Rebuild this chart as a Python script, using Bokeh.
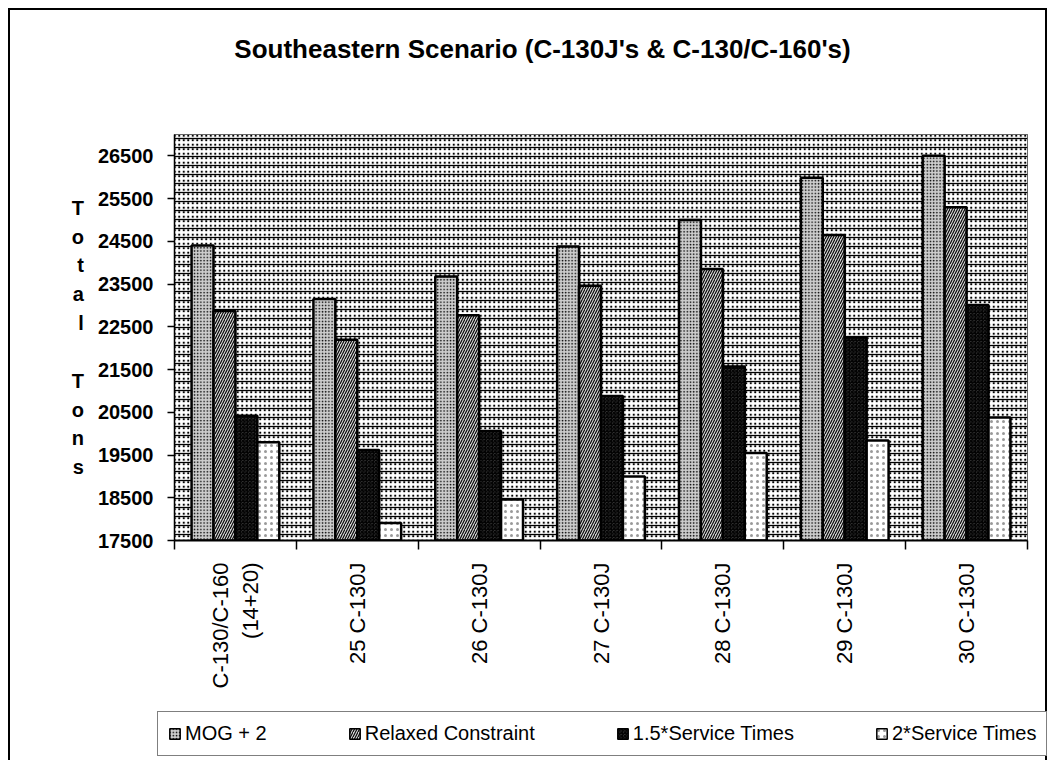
import math
from bokeh.plotting import figure
from bokeh.models import FixedTicker, BoxAnnotation, Range1d, Legend, LegendItem, Label
from bokeh.embed import file_html
from bokeh.resources import INLINE

# ---- data ----
categories = ["C-130/C-160\n(14+20)", "25 C-130J", "26 C-130J", "27 C-130J",
              "28 C-130J", "29 C-130J", "30 C-130J"]
series_names = ["MOG + 2", "Relaxed Constraint", "1.5*Service Times", "2*Service Times"]
mog_plus_2 = [24400, 23150, 23680, 24380, 25000, 25990, 26500]
relaxed_constraint = [22870, 22200, 22770, 23460, 23850, 24650, 25300]
service_times_15 = [20420, 19620, 20060, 20880, 21570, 22250, 23010]
service_times_2 = [19800, 17910, 18460, 19000, 19550, 19840, 20380]
y_ticks = [17500, 18500, 19500, 20500, 21500, 22500, 23500, 24500, 25500, 26500]
y_min, y_max = 17500, 27000
title_text = "Southeastern Scenario (C-130J's & C-130/C-160's)"
y_label = "Total Tons"

series_values = [mog_plus_2, relaxed_constraint, service_times_15, service_times_2]

FONT = "Liberation Sans"
n = len(categories)
W = 1039
TOP_H, MAIN_H, LEG_H = 116, 578, 58

styles = [
    dict(fill_color="#cdcdcd", hatch_pattern="dot", hatch_color="black", hatch_scale=3.2, hatch_weight=1.0),
    dict(fill_color="#d2d2d2", hatch_pattern="right_diagonal_line", hatch_color="black", hatch_scale=5, hatch_weight=1.1),
    dict(fill_color="#505050", hatch_pattern="criss_cross", hatch_color="black", hatch_scale=3.5, hatch_weight=1.1),
    dict(fill_color="white", hatch_pattern="dot", hatch_color="#9a9a9a", hatch_scale=6, hatch_weight=1.2),
]

BORDER = "2px solid black"


def blank_fig(h, css):
    f = figure(width=W, height=h, output_backend="svg", toolbar_location=None,
               x_range=Range1d(0, W), y_range=Range1d(0, h),
               x_axis_location=None, y_axis_location=None, min_border=0, styles=css)
    f.outline_line_color = None
    f.xgrid.grid_line_color = None
    f.ygrid.grid_line_color = None
    f.background_fill_color = "white"
    f.border_fill_color = "white"
    return f


side_css = {"border-left": BORDER, "border-right": BORDER, "margin-left": "8px"}

# ---- title strip ----
top = blank_fig(TOP_H, dict(side_css, **{"border-top": BORDER, "margin-top": "8px"}))
top.add_layout(Label(x=532, y=TOP_H - 38, text=title_text, text_align="center",
                     text_baseline="middle", text_font=FONT, text_font_size="26px",
                     text_font_style="bold", text_color="black"))

# ---- main chart ----
p = figure(width=W, height=MAIN_H, output_backend="svg", toolbar_location=None,
           x_range=Range1d(-0.5, n - 0.5), y_range=Range1d(y_min, y_max),
           min_border_left=164, min_border_right=22, min_border_top=10,
           min_border_bottom=162, styles=dict(side_css))
try:
    p.title = None
except Exception:
    p.title.text = ""

p.background_fill_color = "white"
p.border_fill_color = "white"
p.outline_line_color = "#333333"
p.outline_line_width = 1
p.xgrid.grid_line_color = None
p.ygrid.grid_line_color = None

p.add_layout(BoxAnnotation(level="underlay", fill_color="white", fill_alpha=1,
                           hatch_pattern="dot", hatch_color="black", hatch_scale=4.5,
                           hatch_weight=1.0, line_color=None, editable=False))
p.add_layout(BoxAnnotation(level="underlay", fill_alpha=0,
                           hatch_pattern="horizontal_line", hatch_color="black",
                           hatch_scale=9, hatch_weight=1.3, line_color=None, editable=False))

bar_w = 0.18
offsets = [-0.27, -0.09, 0.09, 0.27]
for vals, off, st in zip(series_values, offsets, styles):
    xs = [i + off for i in range(n)]
    p.vbar(x=xs, top=vals, bottom=y_min, width=bar_w, line_color="black",
           line_width=2.5, **st)

yax = p.yaxis[0]
yax.ticker = FixedTicker(ticks=y_ticks)
yax.major_tick_out = 7
yax.major_tick_in = 0
yax.minor_tick_out = 0
yax.minor_tick_in = 0
yax.axis_line_color = "black"
yax.axis_line_width = 1.5
yax.major_tick_line_width = 1.5
yax.major_label_text_font = FONT
yax.major_label_text_font_size = "20px"
yax.major_label_text_font_style = "bold"
yax.major_label_text_color = "black"
yax.major_label_standoff = 14
yax.axis_label = "\n".join(list(y_label.split(" ")[0]) + [""] + list(y_label.split(" ")[1]))
yax.axis_label_orientation = "horizontal"
yax.axis_label_text_font = FONT
yax.axis_label_text_font_size = "20px"
yax.axis_label_text_font_style = "bold"
yax.axis_label_text_color = "black"
yax.axis_label_text_line_height = 1.31
yax.axis_label_standoff = 11

xax = p.xaxis[0]
xax.ticker = FixedTicker(ticks=list(range(n)), minor_ticks=[i + 0.5 for i in range(-1, n)])
xax.major_label_overrides = {i: c for i, c in enumerate(categories)}
xax.major_tick_out = 0
xax.major_tick_in = 0
xax.minor_tick_out = 9
xax.minor_tick_in = 0
xax.minor_tick_line_width = 1.5
xax.minor_tick_line_color = "black"
xax.axis_line_color = "black"
xax.axis_line_width = 2
xax.major_label_orientation = math.pi / 2
xax.major_label_standoff = 13
xax.major_label_text_font = FONT
xax.major_label_text_font_size = "22px"
xax.major_label_text_color = "black"

# ---- legend strip (hidden proxy renderers carry the bar styles) ----
leg = blank_fig(LEG_H, dict(side_css))
items = []
for name, st in zip(series_names, styles):
    r = leg.vbar(x=[0], top=[1], width=1, line_color="black", line_width=1.5,
                 visible=False, **st)
    items.append(LegendItem(label=name, renderers=[r]))
lg = Legend(items=items, orientation="horizontal", location=(147, 4))
lg.margin = 0
lg.padding = 10
lg.spacing = 81
lg.label_standoff = 4
lg.glyph_width = 13
lg.glyph_height = 13
lg.label_text_font = FONT
lg.label_text_font_size = "20px"
lg.label_text_color = "black"
lg.border_line_color = "black"
lg.border_line_width = 1.5
lg.background_fill_color = "white"
lg.background_fill_alpha = 1
lg.click_policy = "none"
leg.add_layout(lg, "center")

open("out.html", "w").write(file_html([top, p, leg], INLINE))
